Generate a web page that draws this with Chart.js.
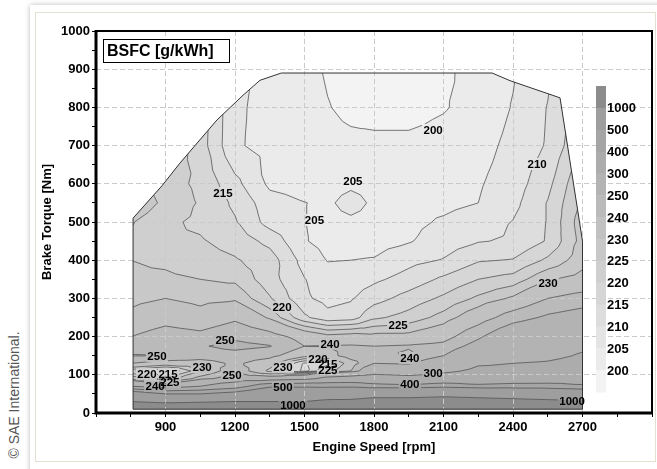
<!DOCTYPE html>
<html>
<head>
<meta charset="utf-8">
<script src="https://cdn.jsdelivr.net/npm/chart.js@4.4.0/dist/chart.umd.min.js"></script>
<style>
  html, body { margin: 0; padding: 0; background: #fff; }
  #wrap { position: relative; width: 657px; height: 469px; overflow: hidden; }
  #shadow { position: absolute; left: 30px; top: 5px; width: 650px; height: 480px; background: #fff;
            box-shadow: 0 0 5px rgba(0,0,0,0.28); }
  #panel { position: absolute; left: 35px; top: 12px; width: 619px; height: 448px; border: 1px solid #e3e0d2; }
  #copy { position: absolute; left: 14px; top: 395px; transform: translate(-50%, -50%) rotate(-90deg);
          white-space: nowrap; font: 14px "Liberation Sans", Arial, sans-serif; color: #555; }
  canvas { position: absolute; left: 0; top: 0; }
</style>
</head>
<body>
<div id="wrap">
  <div id="shadow"></div>
  <div id="panel"></div>
  <div id="copy">© SAE International.</div>
  <canvas id="c" width="657" height="469"></canvas>
</div>
<script>
// engine speed grid [rpm]
const speed = [750, 900, 1050, 1200, 1350, 1500, 1600, 1700, 1800, 1950, 2100, 2250, 2400, 2550, 2700];
// brake torque grid [Nm]
const torque = [10, 30, 50, 70, 90, 110, 130, 150, 175, 200, 250, 300, 350, 400, 450, 500, 550, 600, 700, 800, 900];
// BSFC [g/kWh], one row per torque value
const bsfc = [
  [1500, 1500, 1500, 1500, 1500, 1500, 1500, 1500, 1600, 1600, 1600, 1600, 1600, 1550, 1500],
  [1000, 900, 950, 1000, 1000, 1000, 1100, 1100, 1200, 1200, 1250, 1200, 1150, 1100, 1050],
  [600, 500, 500, 550, 650, 650, 700, 750, 800, 800, 850, 800, 750, 700, 650],
  [300, 250, 300, 350, 480, 480, 470, 470, 430, 420, 450, 420, 430, 430, 410],
  [235, 222, 245, 258, 260, 280, 320, 330, 340, 320, 330, 340, 350, 355, 365],
  [221, 214, 229, 248, 228, 213, 226, 240, 268, 270, 290, 310, 310, 315, 335],
  [240, 235, 235, 242, 234, 214, 218, 235, 250, 248, 265, 295, 300, 305, 318],
  [250.5, 250, 245, 246, 243, 232, 236, 245, 246, 238, 250, 265, 280, 288, 305],
  [246, 248, 249, 253, 250.5, 240, 240.5, 241, 240, 241, 243, 255, 270, 278, 292],
  [240, 245, 243, 248, 244, 236, 232, 233, 232, 232, 236, 248, 262, 268, 275],
  [232, 236, 233, 238, 229, 216, 211.5, 212.5, 219, 222, 227, 235, 245, 252, 256],
  [228, 230, 228, 229, 220.5, 210.8, 208.5, 209.5, 213, 217, 221, 226, 231, 240, 244],
  [226, 226, 225, 224, 217, 210.2, 207, 207.5, 209, 212, 216, 220, 222, 229.5, 232],
  [225, 224, 222, 220.5, 217.5, 208, 204.8, 205, 205.3, 208.5, 210.3, 214.5, 215.3, 221, 228],
  [224, 220.5, 220.5, 218, 213.5, 205.3, 203.5, 203.5, 203.2, 204.6, 207.5, 209.7, 210.6, 215.5, 227],
  [225.5, 221, 219, 215.5, 208, 205.1, 203.8, 204.2, 203.8, 203.8, 205.6, 207.5, 210.2, 215.3, 228],
  [230, 223.5, 219.5, 214, 207, 205.1, 204.3, 206.5, 204.3, 203.5, 203.8, 205, 208.5, 215.3, 226],
  [228, 222, 219, 211.5, 204, 203, 203.5, 204.2, 203.8, 203, 203, 204.5, 207.5, 213.5, 225],
  [235, 225, 217.5, 205.6, 203.5, 202, 201.3, 201, 201, 201, 201.5, 203, 206.5, 210.5, 220],
  [238, 228, 218, 205.8, 203.5, 202, 200.2, 199, 198.5, 198.5, 199.7, 201.5, 205.3, 210.2, 218],
  [234, 224, 214, 206, 204, 201.5, 199.5, 198.5, 198, 197.5, 199, 202, 204.5, 209, 217]
];
// contour levels
const levels = [200, 205, 210, 215, 220, 225, 230, 240, 250, 300, 400, 500, 1000];
// full load / map outline [rpm, Nm]
const outlineRpm = [760, 760, 885, 962, 1122, 1235, 1308, 1400, 2310, 2387, 2603, 2700, 2700];
const outlineNm  = [10, 510, 595, 654, 767, 832, 871, 890, 890, 870, 825, 450, 10];
// contour labels: value, rpm, Nm
const labelVal = [200, 205, 205, 210, 215, 220, 225, 230, 250, 250, 220, 215, 225, 240, 230, 250, 230, 500, 1000, 240, 220, 215, 225, 240, 400, 300, 1000];
const labelRpm = [2055, 1709, 1543, 2504, 1148, 1403, 1904, 2551, 1157, 863, 820, 911, 919, 855, 1058, 1187, 1407, 1407, 1450, 1610, 1558, 1601, 1601, 1955, 1955, 2055, 2655];
const labelNm  = [741, 607, 505, 652, 576, 277, 230, 340, 191, 149, 102, 102, 79, 71, 120, 99, 120, 68, 21, 181, 141, 128, 113, 144, 76, 105, 31];

const bandColors = ['#f3f3f3', '#ebebeb', '#e4e4e4', '#dddddd', '#d6d6d6', '#cfcfcf', '#c8c8c8',
                    '#c1c1c1', '#bababa', '#b3b3b3', '#acacac', '#a5a5a5', '#9e9e9e', '#8c8c8c'];
const FONT = '"Liberation Sans", Arial, sans-serif';

// split every grid cell into 4 triangles (centre = mean of corners)
function triangles(xs, ys) {
  const tris = [];
  const P = (i, j) => ({ x: xs.getPixelForValue(speed[i]), y: ys.getPixelForValue(torque[j]), v: bsfc[j][i] });
  for (let j = 0; j < torque.length - 1; j++) {
    for (let i = 0; i < speed.length - 1; i++) {
      const a = P(i, j), b = P(i + 1, j), c = P(i + 1, j + 1), d = P(i, j + 1);
      const e = { x: (a.x + b.x + c.x + d.x) / 4, y: (a.y + b.y + c.y + d.y) / 4, v: (a.v + b.v + c.v + d.v) / 4 };
      tris.push([a, b, e], [b, c, e], [c, d, e], [d, a, e]);
    }
  }
  return tris;
}

function clipAbove(poly, L) {
  const out = [];
  for (let k = 0; k < poly.length; k++) {
    const a = poly[k], b = poly[(k + 1) % poly.length];
    const ain = a.v >= L, bin = b.v >= L;
    if (ain) out.push(a);
    if (ain !== bin) {
      const t = (L - a.v) / (b.v - a.v);
      out.push({ x: a.x + t * (b.x - a.x), y: a.y + t * (b.y - a.y), v: L });
    }
  }
  return out;
}

function outlinePath(ctx, xs, ys) {
  ctx.beginPath();
  outlineRpm.forEach((r, k) => {
    const x = xs.getPixelForValue(r), y = ys.getPixelForValue(outlineNm[k]);
    k ? ctx.lineTo(x, y) : ctx.moveTo(x, y);
  });
  ctx.closePath();
}

function labelBoxes(ctx, xs, ys) {
  ctx.font = 'bold 11.5px ' + FONT;
  return labelVal.map((v, k) => {
    const w = ctx.measureText(String(v)).width;
    const x = xs.getPixelForValue(labelRpm[k]), y = ys.getPixelForValue(labelNm[k]);
    return { text: String(v), x, y, w };
  });
}

const contourPlugin = {
  id: 'contour',
  beforeDraw(chart) {
    const { ctx, scales: { x: xs, y: ys } } = chart;
    const tris = triangles(xs, ys);
    ctx.save();
    outlinePath(ctx, xs, ys);
    ctx.clip();
    outlinePath(ctx, xs, ys);
    ctx.fillStyle = bandColors[0];
    ctx.fill();
    levels.forEach((L, k) => {
      ctx.beginPath();
      tris.forEach(t => {
        const p = clipAbove(t, L);
        if (p.length < 3) return;
        ctx.moveTo(p[0].x, p[0].y);
        for (let m = 1; m < p.length; m++) ctx.lineTo(p[m].x, p[m].y);
        ctx.closePath();
      });
      ctx.fillStyle = bandColors[k + 1];
      ctx.fill();
    });
    ctx.restore();
  },
  afterDatasetsDraw(chart) {
    const { ctx, chartArea: a, scales: { x: xs, y: ys } } = chart;
    const tris = triangles(xs, ys);
    const labs = labelBoxes(ctx, xs, ys);

    // contour lines, kept out of the label boxes
    ctx.save();
    ctx.beginPath();
    ctx.rect(a.left, a.top, a.right - a.left, a.bottom - a.top);
    labs.forEach(l => ctx.rect(l.x - l.w / 2 - 1.5, l.y - 6, l.w + 3, 12));
    ctx.clip('evenodd');
    outlinePath(ctx, xs, ys);
    ctx.clip();
    ctx.beginPath();
    tris.forEach(t => {
      levels.forEach(L => {
        const pts = [];
        for (let k = 0; k < 3; k++) {
          const p = t[k], q = t[(k + 1) % 3];
          if ((p.v < L) !== (q.v < L)) {
            const s = (L - p.v) / (q.v - p.v);
            pts.push([p.x + s * (q.x - p.x), p.y + s * (q.y - p.y)]);
          }
        }
        if (pts.length === 2) { ctx.moveTo(pts[0][0], pts[0][1]); ctx.lineTo(pts[1][0], pts[1][1]); }
      });
    });
    ctx.strokeStyle = '#555';
    ctx.lineWidth = 0.8;
    ctx.stroke();
    ctx.restore();

    ctx.save();
    outlinePath(ctx, xs, ys);
    ctx.strokeStyle = '#333';
    ctx.lineWidth = 1;
    ctx.stroke();

    // contour labels
    ctx.fillStyle = '#000';
    ctx.font = 'bold 11.5px ' + FONT;
    ctx.textAlign = 'center';
    ctx.textBaseline = 'middle';
    labs.forEach(l => ctx.fillText(l.text, l.x, l.y + 0.5));

    // colour scale
    const bx = a.right - 56, by = a.top + 55, bh = a.bottom - 21 - by, n = bandColors.length, sh = bh / n;
    for (let k = 0; k < n; k++) {
      ctx.fillStyle = bandColors[n - 1 - k];
      ctx.fillRect(bx, by + k * sh, 10, sh + 0.5);
    }
    ctx.fillStyle = '#000';
    ctx.font = 'bold 13px ' + FONT;
    ctx.textAlign = 'left';
    levels.slice().reverse().forEach((L, k) => ctx.fillText(String(L), bx + 11, by + (k + 1) * sh + 1));

    // title box
    ctx.fillStyle = '#fff';
    ctx.fillRect(a.left + 7.5, a.top + 8.5, 126, 23);
    ctx.strokeStyle = '#000';
    ctx.lineWidth = 1;
    ctx.strokeRect(a.left + 7.5, a.top + 8.5, 126, 23);
    ctx.fillStyle = '#000';
    ctx.font = 'bold 16px ' + FONT;
    ctx.textAlign = 'left';
    ctx.fillText('BSFC [g/kWh]', a.left + 11, a.top + 20.5);

    // frame
    ctx.lineWidth = 2;
    ctx.strokeRect(a.left, a.top, a.right - a.left, a.bottom - a.top);
    ctx.lineWidth = 3;
    ctx.beginPath();
    ctx.moveTo(a.left, a.top - 1); ctx.lineTo(a.left, a.bottom); ctx.lineTo(a.right + 1, a.bottom);
    ctx.stroke();

    // axis titles
    ctx.font = 'bold 13px ' + FONT;
    ctx.textAlign = 'center';
    ctx.fillText('Engine Speed [rpm]', (a.left + a.right) / 2, a.bottom + 34);
    ctx.translate(a.left - 49, (a.top + a.bottom) / 2);
    ctx.rotate(-Math.PI / 2);
    ctx.fillText('Brake Torque [Nm]', 0, 0);
    ctx.restore();
  }
};

const majorX = v => v % 300 === 0 && v >= 900 && v <= 2700;
const majorY = v => v % 100 === 0 && v > 0 && v < 1000;

new Chart(document.getElementById('c'), {
  type: 'scatter',
  data: { datasets: [{ data: [], pointRadius: 0 }] },
  options: {
    responsive: false,
    animation: false,
    devicePixelRatio: 1,
    layout: { padding: { left: 36, top: 31, right: 5, bottom: 16 } },
    plugins: { legend: { display: false }, tooltip: { enabled: false } },
    scales: {
      x: {
        type: 'linear', min: 600, max: 3000,
        afterFit: s => { s.height = 40; },
        border: { display: false, dash: [5, 3] },
        grid: { color: c => majorX(c.tick.value) ? '#cacaca' : 'rgba(0,0,0,0)', tickColor: '#000', tickLength: 4, lineWidth: 1 },
        ticks: { stepSize: 150, autoSkip: false, maxRotation: 0, padding: 3, color: '#000',
                 font: { family: FONT, size: 13, weight: 'bold' },
                 callback: v => majorX(v) ? String(v) : '' }
      },
      y: {
        type: 'linear', min: 0, max: 1000,
        afterFit: s => { s.width = 60; },
        border: { display: false, dash: [5, 3] },
        grid: { color: c => majorY(c.tick.value) ? '#cacaca' : 'rgba(0,0,0,0)', tickColor: '#000', tickLength: 4, lineWidth: 1 },
        ticks: { stepSize: 50, autoSkip: false, padding: 2, color: '#000',
                 font: { family: FONT, size: 13, weight: 'bold' },
                 callback: v => v % 100 === 0 ? String(v) : '' }
      }
    }
  },
  plugins: [contourPlugin]
});
</script>
</body>
</html>
